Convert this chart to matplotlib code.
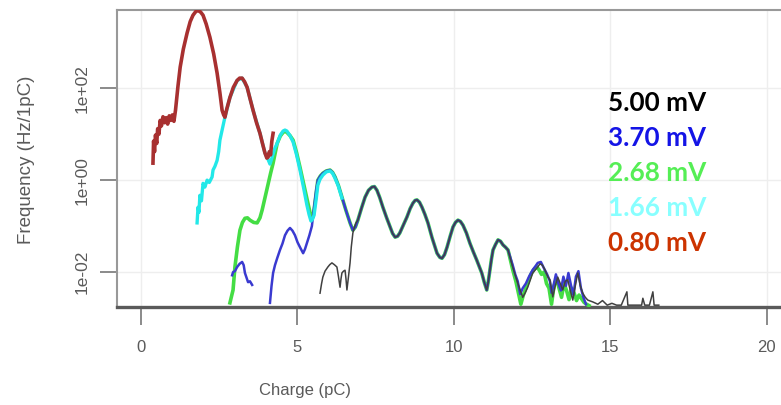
import numpy as np
import matplotlib
matplotlib.use("Agg")
import matplotlib.pyplot as plt

# charge (pC) and log10 of frequency (Hz/1pC)
red_q = [0.38, 0.40, 0.43, 0.46, 0.50, 0.53, 0.57, 0.61, 0.65, 0.70, 0.75, 0.80, 0.85, 0.90,
         0.95, 1.00, 1.05, 1.10, 1.18, 1.25, 1.35, 1.47, 1.57, 1.66, 1.75, 1.82, 1.90, 1.98,
         2.08, 2.20, 2.32, 2.43, 2.52, 2.59, 2.64, 2.68, 2.74, 2.84, 2.95, 3.07, 3.15, 3.23,
         3.31, 3.39, 3.48, 3.58, 3.69, 3.80, 3.88, 3.96, 4.02, 4.06, 4.10, 4.14, 4.18, 4.22]
red_lf = [0.37, 0.85, 0.62, 0.98, 0.80, 1.12, 1.00, 1.30, 1.18, 1.38, 1.25, 1.36, 1.22, 1.40,
          1.30, 1.42, 1.28, 1.52, 2.05, 2.46, 2.85, 3.20, 3.45, 3.59, 3.67, 3.69, 3.66, 3.59,
          3.40, 3.11, 2.75, 2.33, 1.90, 1.52, 1.42, 1.37, 1.55, 1.80, 2.02, 2.17, 2.22, 2.22,
          2.14, 2.02, 1.78, 1.52, 1.25, 1.02, 0.80, 0.59, 0.48, 0.50, 0.62, 0.55, 0.85, 1.02]

cyan_q = [1.79, 1.82, 1.85, 1.88, 1.93, 1.98, 2.04, 2.11, 2.18, 2.27, 2.30, 2.36, 2.43, 2.48,
          2.52, 2.59, 2.68, 2.84, 3.07, 3.23, 3.39, 3.58, 3.80, 3.96, 4.06, 4.12, 4.20, 4.28,
          4.35, 4.45, 4.54, 4.60, 4.66, 4.76, 4.86, 4.97, 5.08, 5.19, 5.30, 5.37, 5.43, 5.48,
          5.53, 5.60, 5.65, 5.72, 5.81, 5.92, 6.04, 6.12, 6.20, 6.30, 6.42]
cyan_lf = [-0.93, -0.59, -0.70, -0.33, -0.45, -0.07, -0.15, 0.00, -0.05, 0.07, 0.22, 0.30, 0.43, 0.62,
           0.87, 1.09, 1.37, 1.80, 2.17, 2.22, 2.02, 1.52, 1.02, 0.59, 0.45, 0.35, 0.52, 0.70,
           0.80, 0.98, 1.07, 1.09, 1.07, 0.97, 0.83, 0.55, 0.22, -0.15, -0.54, -0.75, -0.89, -0.85,
           -0.76, -0.40, -0.11, 0.02, 0.11, 0.18, 0.20, 0.15, 0.04, -0.12, -0.39]

green_q = [2.84, 2.90, 2.94, 3.00, 3.08, 3.16, 3.24, 3.32, 3.40, 3.48, 3.60, 3.71, 3.80, 3.87,
           3.96, 4.06, 4.14, 4.22, 4.35, 4.45, 4.54, 4.60, 4.66, 4.76, 4.86, 4.97, 5.08, 5.16,
           5.24, 5.32, 5.40, 5.45, 5.50]
green_lf = [-2.67, -2.50, -2.39, -1.89, -1.45, -1.09, -0.92, -0.83, -0.82, -0.87, -0.92, -0.93, -0.82, -0.65,
            -0.38, -0.07, 0.15, 0.37, 0.80, 0.96, 1.04, 1.06, 1.04, 0.97, 0.87, 0.60, 0.28, 0.03,
            -0.22, -0.46, -0.70, -0.82, -0.80]

blue_q = [2.91, 2.94, 3.00, 3.07, 3.15, 3.23, 3.28, 3.32, 3.37, 3.42, 3.48, 3.55, np.nan,
          4.12, 4.17, 4.22, 4.28, 4.35, 4.44, 4.52, 4.60, 4.68, 4.76, 4.84, 4.92, 5.00, 5.08,
          5.18, 5.24, 5.30, 5.38, 5.46, 5.51, 5.56, 5.60]
blue_lf = [-2.07, -2.00, -1.98, -1.89, -1.82, -1.78, -1.85, -2.02, -2.12, -2.22, -2.20, -2.28, np.nan,
           -2.67, -2.30, -2.02, -1.85, -1.70, -1.52, -1.38, -1.20, -1.10, -1.04, -1.10, -1.20, -1.35, -1.46,
           -1.59, -1.50, -1.37, -1.20, -1.00, -0.70, -0.43, -0.20]

black_q = [5.72, 5.77, 5.81, 5.88, 5.97, 6.03, 6.10, 6.18, 6.26, 6.31, 6.36, 6.39, 6.42, 6.47,
           6.52, 6.55, 6.58, 6.63, 6.68, 6.72, 6.77, 6.82, 6.87]
black_lf = [-2.46, -2.25, -2.11, -1.98, -1.89, -1.84, -1.80, -1.84, -1.89, -2.10, -2.33, -2.15, -2.02, -1.98,
            -1.96, -2.15, -2.39, -2.10, -1.80, -1.45, -1.15, -1.02, -0.93]

# shared part where the 2.68 / 3.70 / 5.00 mV curves lie on top of each other
tail_q = [5.65, 5.73, 5.81, 5.92, 6.04, 6.12, 6.20, 6.31, 6.42, 6.55, 6.68, 6.77, 6.85, 6.93,
          7.05, 7.16, 7.27, 7.38, 7.46, 7.54, 7.63, 7.73, 7.85, 7.96, 8.04, 8.12, 8.20, 8.27,
          8.38, 8.50, 8.60, 8.69, 8.76, 8.82, 8.90, 8.98, 9.07, 9.17, 9.30, 9.46, 9.55, 9.62,
          9.70, 9.78, 9.88, 9.97, 10.05, 10.13, 10.21, 10.29, 10.40, 10.51, 10.62, 10.73, 10.81,
          10.89, 10.97, 11.05, 11.10, 11.15, 11.20, 11.25, 11.33, 11.41, 11.49, 11.57, 11.65, 11.73]
tail_lf = [0.00, 0.09, 0.15, 0.20, 0.22, 0.17, 0.07, -0.12, -0.37, -0.66, -0.93, -1.09, -1.02, -0.87,
           -0.60, -0.37, -0.22, -0.15, -0.14, -0.22, -0.38, -0.59, -0.82, -1.02, -1.16, -1.24, -1.22, -1.15,
           -0.98, -0.80, -0.62, -0.50, -0.44, -0.43, -0.48, -0.59, -0.74, -0.93, -1.25, -1.59, -1.68, -1.70,
           -1.62, -1.46, -1.22, -1.02, -0.92, -0.87, -0.90, -0.98, -1.15, -1.37, -1.56, -1.74, -1.88,
           -2.02, -2.22, -2.39, -2.20, -1.96, -1.72, -1.52, -1.40, -1.30, -1.33, -1.41, -1.46, -1.52]

# noisy ends
black_end_q = [11.88, 12.04, 12.12, 12.20, 12.28, 12.36, 12.52, 12.68, 12.75, 12.83, 12.91, 13.00,
               13.07, 13.16, 13.24, 13.32, 13.40, 13.48, 13.56, 13.64, 13.72, 13.80, 13.88, 13.96,
               14.04, 14.12, 14.20, 14.28, 14.44, 14.60, 14.75, 14.90, 15.05, 15.20, 15.35, 15.53,
               15.56, 15.70, 15.85, 16.00, 16.04, 16.10, 16.25, 16.36, 16.40, 16.55]
black_end_lf = [-1.89, -2.24, -2.40, -2.55, -2.45, -2.33, -2.02, -1.89, -1.82, -1.85, -1.95, -2.10,
                -2.17, -2.54, -2.30, -2.11, -2.25, -2.39, -2.20, -2.17, -2.40, -2.61, -2.30, -2.02,
                -2.30, -2.46, -2.55, -2.61, -2.65, -2.70, -2.62, -2.72, -2.68, -2.72, -2.72, -2.43,
                -2.72, -2.72, -2.72, -2.72, -2.57, -2.72, -2.72, -2.43, -2.72, -2.72]
blue_end_q = [11.88, 11.96, 12.04, 12.12, 12.20, 12.30, 12.40, 12.52, 12.60, 12.68, 12.78, 12.88,
              12.98, 13.07, 13.12, 13.18, 13.26, 13.34, 13.42, 13.50, 13.58, 13.66, 13.74, 13.82,
              13.90, 13.98, 14.06, 14.14, 14.22]
blue_end_lf = [-1.85, -2.05, -2.20, -2.48, -2.35, -2.25, -2.10, -1.95, -1.88, -1.80, -1.78, -1.92,
               -2.05, -2.20, -2.45, -2.30, -2.05, -2.25, -2.40, -2.10, -2.30, -2.02, -2.28, -2.50,
               -2.10, -1.98, -2.35, -2.55, -2.70]
green_end_q = [11.88, 11.98, 12.06, 12.14, 12.22, 12.30, 12.38, 12.46, 12.55, 12.64, 12.72, 12.80,
               12.88, 12.96, 13.04, 13.12, 13.20, 13.28, 13.36, 13.44, 13.52, 13.60, 13.68, 13.76,
               13.84, 13.92, 14.00, 14.08, 14.16, 14.24, 14.32]
green_end_lf = [-1.95, -2.20, -2.45, -2.70, -2.50, -2.35, -2.20, -2.05, -1.95, -1.88, -1.95, -2.05,
                -2.00, -2.25, -2.35, -2.70, -2.30, -2.15, -2.35, -2.55, -2.25, -2.40, -2.60, -2.35,
                -2.45, -2.62, -2.50, -2.58, -2.66, -2.70, -2.73]

labels = ["5.00 mV", "3.70 mV", "2.68 mV", "1.66 mV", "0.80 mV"]
label_colors = ["#000000", "#1414e6", "#55ee55", "#88ffff", "#cc3300"]

xticks = [0, 5, 10, 15, 20]
yticks = [1e-2, 1e0, 1e2]
yticklabels = ["1e-02", "1e+00", "1e+02"]

tq = np.array(tail_q)
tl = np.array(tail_lf)
keep = tq >= 6.9

green_x = np.concatenate([green_q, tq, green_end_q])
green_y = np.concatenate([green_lf, tl, green_end_lf])
blue_x = np.concatenate([blue_q, tq, blue_end_q])
blue_y = np.concatenate([blue_lf, tl, blue_end_lf])
black_x = np.concatenate([black_q, tq[keep], black_end_q])
black_y = np.concatenate([black_lf, tl[keep], black_end_lf])

fig = plt.figure(figsize=(7.81, 4.05), dpi=100)
ax = fig.add_axes([0.1498, 0.242, 0.872, 0.733])

ax.plot(green_x, 10 ** green_y, color="#44dd44", lw=2.6, zorder=3)
ax.plot(blue_x, 10 ** blue_y, color="#3a3ad0", lw=1.8, zorder=4)
ax.plot(black_x, 10 ** black_y, color="#404040", lw=1.1, zorder=5)
ax.plot(cyan_q, 10 ** np.array(cyan_lf), color="#22e8e8", lw=2.4, zorder=6)
ax.plot(red_q, 10 ** np.array(red_lf), color="#a83030", lw=2.6, zorder=7)

ax.set_yscale("log")
ax.set_xlim(-0.77, 21.0)
ax.set_ylim(10 ** -2.76, 10 ** 3.70)

ax.set_xticks(xticks)
ax.set_xticklabels([str(t) for t in xticks], family="Liberation Sans",
                   fontsize=12, color="#5a5a5a")
ax.set_yticks(yticks)
ax.set_yticklabels(yticklabels, rotation=90, va="center", family="Liberation Sans",
                   fontsize=12.5, color="#5a5a5a")
ax.minorticks_off()
ax.tick_params(axis="x", length=13, width=1.2, color="#777777", pad=11)
ax.tick_params(axis="y", length=12, width=1.2, color="#777777", pad=8)

ax.grid(True, color="#eeeeee", lw=1.0, zorder=0)
ax.set_axisbelow(True)

for side in ["left", "top", "right"]:
    ax.spines[side].set_color("#999999")
    ax.spines[side].set_linewidth(1.5)
ax.spines["bottom"].set_color("#5a5a5a")
ax.spines["bottom"].set_linewidth(2.4)

fig.text(0.034, 0.605, "Frequency (Hz/1pC)", rotation=90, ha="center", va="center",
         family="Liberation Sans", fontsize=13.5, color="#5a5a5a")
fig.text(0.391, 0.035, "Charge (pC)", ha="center", va="center",
         family="Liberation Sans", fontsize=12, color="#5a5a5a")

for i, (lab, col) in enumerate(zip(labels, label_colors)):
    fig.text(0.778, 0.745 - i * 0.0865, lab, color=col, fontsize=18.8, fontweight="bold",
             family="Lato", ha="left", va="center")

fig.savefig("out.png", dpi=100)
